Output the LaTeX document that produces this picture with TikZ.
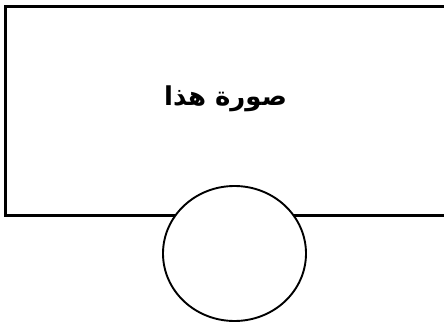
\documentclass[tikz,border=0pt]{standalone}
\usepackage{fontspec}
\usetikzlibrary{shapes.geometric}
\TeXXeTstate=1
\newfontfamily\arabicbold[Script=Arabic]{DejaVu Sans Bold}
\begin{document}
\begin{tikzpicture}[x=1pt,y=1pt,
  frame/.style={draw=black,line width=2.6pt},
  roundel/.style={ellipse,draw=black,fill=white,line width=1.9pt,minimum width=143pt,minimum height=135pt,inner sep=0pt},
  caption/.style={font=\arabicbold\fontsize{26}{30}\selectfont}]
\useasboundingbox (0,0) rectangle (444,322);
\clip (0,0) rectangle (444,322);
\node[frame,minimum width=450pt,minimum height=209pt,anchor=north west,inner sep=0pt] (box) at (4,317) {};
\node[roundel] (c) at (234.5,68.5) {};
\node[caption] (t) at (225.5,223) {\beginR صورة هذا\endR};
\end{tikzpicture}
\end{document}
